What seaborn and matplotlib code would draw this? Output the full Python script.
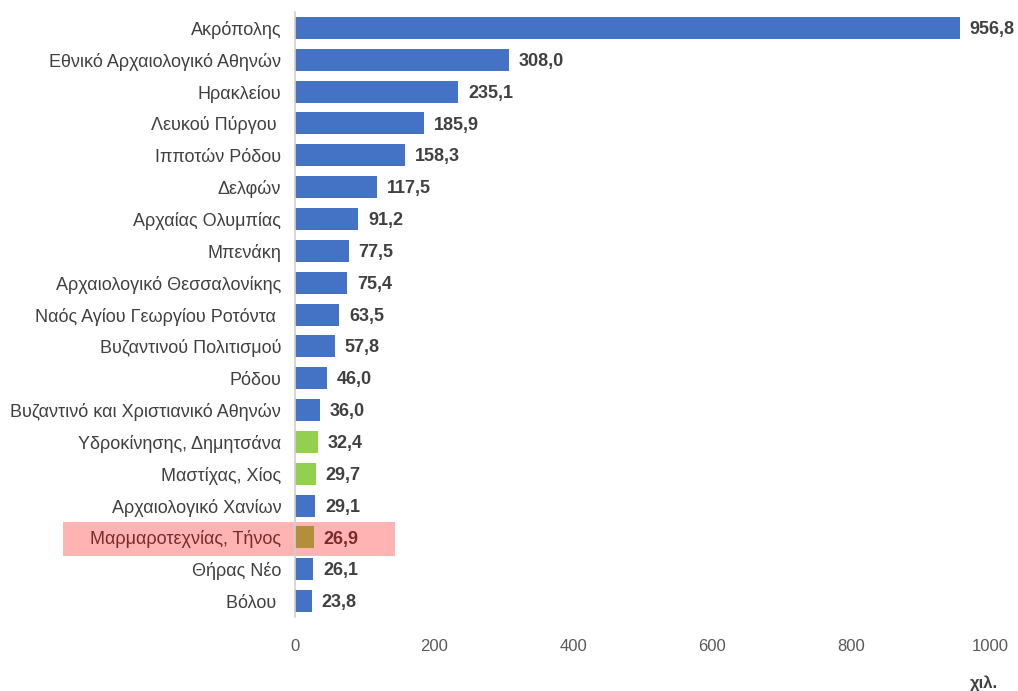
import matplotlib
matplotlib.use("Agg")
import matplotlib.pyplot as plt
import seaborn as sns
import pandas as pd
from matplotlib.patches import Rectangle

museums = [
    "Ακρόπολης", "Εθνικό Αρχαιολογικό Αθηνών", "Ηρακλείου", "Λευκού Πύργου ",
    "Ιπποτών Ρόδου", "Δελφών", "Αρχαίας Ολυμπίας", "Μπενάκη",
    "Αρχαιολογικό Θεσσαλονίκης", "Ναός Αγίου Γεωργίου Ροτόντα ", "Βυζαντινού Πολιτισμού",
    "Ρόδου", "Βυζαντινό και Χριστιανικό Αθηνών", "Υδροκίνησης, Δημητσάνα",
    "Μαστίχας, Χίος", "Αρχαιολογικό Χανίων", "Μαρμαροτεχνίας, Τήνος", "Θήρας Νέο", "Βόλου ",
]
visitors = [956.8, 308.0, 235.1, 185.9, 158.3, 117.5, 91.2, 77.5, 75.4, 63.5, 57.8,
            46.0, 36.0, 32.4, 29.7, 29.1, 26.9, 26.1, 23.8]
group = ["other"] * 13 + ["piraeus", "piraeus", "other", "tinos", "other", "other"]
x_ticks = [0, 200, 400, 600, 800, 1000]
unit_label = "χιλ."

BLUE = "#4472C4"
GREEN = "#92D050"
OLIVE = "#B48F3B"
colors = {"other": BLUE, "piraeus": GREEN, "tinos": OLIVE}

df = pd.DataFrame({"museum": museums, "visitors": visitors, "group": group})

sns.set_theme(style="white")
plt.rcParams["font.family"] = ["Liberation Sans", "DejaVu Sans"]

fig = plt.figure(figsize=(10.18, 6.91), dpi=100)
ax = fig.add_axes([0.2898, 0.107, 0.6827, 0.8756])
ax.set_facecolor("none")

bar_colors = [colors[g] for g in group]
sns.barplot(data=df, y="museum", x="visitors", hue="museum", palette=bar_colors,
            legend=False, orient="h", width=0.69, saturation=1, linewidth=0,
            ax=ax, zorder=3)

ax.set_xlim(0, 1000)
ax.set_ylim(len(museums) - 0.5, -0.5)
ax.set_xticks(x_ticks)
ax.set_xticklabels([str(t) for t in x_ticks], color="#595959", fontsize=12)
ax.set_xlabel("")
ax.set_ylabel("")
ax.tick_params(axis="x", length=0, pad=16)
ax.tick_params(axis="y", length=0, pad=10)
for lbl in ax.get_yticklabels():
    lbl.set_fontsize(13)
    lbl.set_color("#404040")

for s in ["top", "right", "bottom"]:
    ax.spines[s].set_visible(False)
ax.spines["left"].set_color("#D0D0D0")
ax.spines["left"].set_linewidth(1.2)
ax.spines["left"].set_zorder(4)

hi_idx = group.index("tinos")
for i, v in enumerate(visitors):
    col = "#7A2A2A" if i == hi_idx else "#404040"
    ax.text(v + 14, i + 0.05, f"{v:.1f}".replace(".", ","), va="center", ha="left",
            fontsize=13, fontweight="bold", color=col, zorder=5)

ax.get_yticklabels()[hi_idx].set_color("#7A2A2A")

# highlight band behind the Tinos row
band = Rectangle((63 / 1018, 1 - 556 / 691), (395 - 63) / 1018, 34 / 691,
                 transform=fig.transFigure, facecolor="#FFB3B3",
                 edgecolor="none", zorder=0.5, clip_on=False)
ax.add_artist(band)

fig.text(998 / 1018, 1 - 683 / 691, unit_label, ha="right", va="center",
         fontsize=12, fontweight="bold", color="#404040")

fig.savefig("out.png", dpi=100)
